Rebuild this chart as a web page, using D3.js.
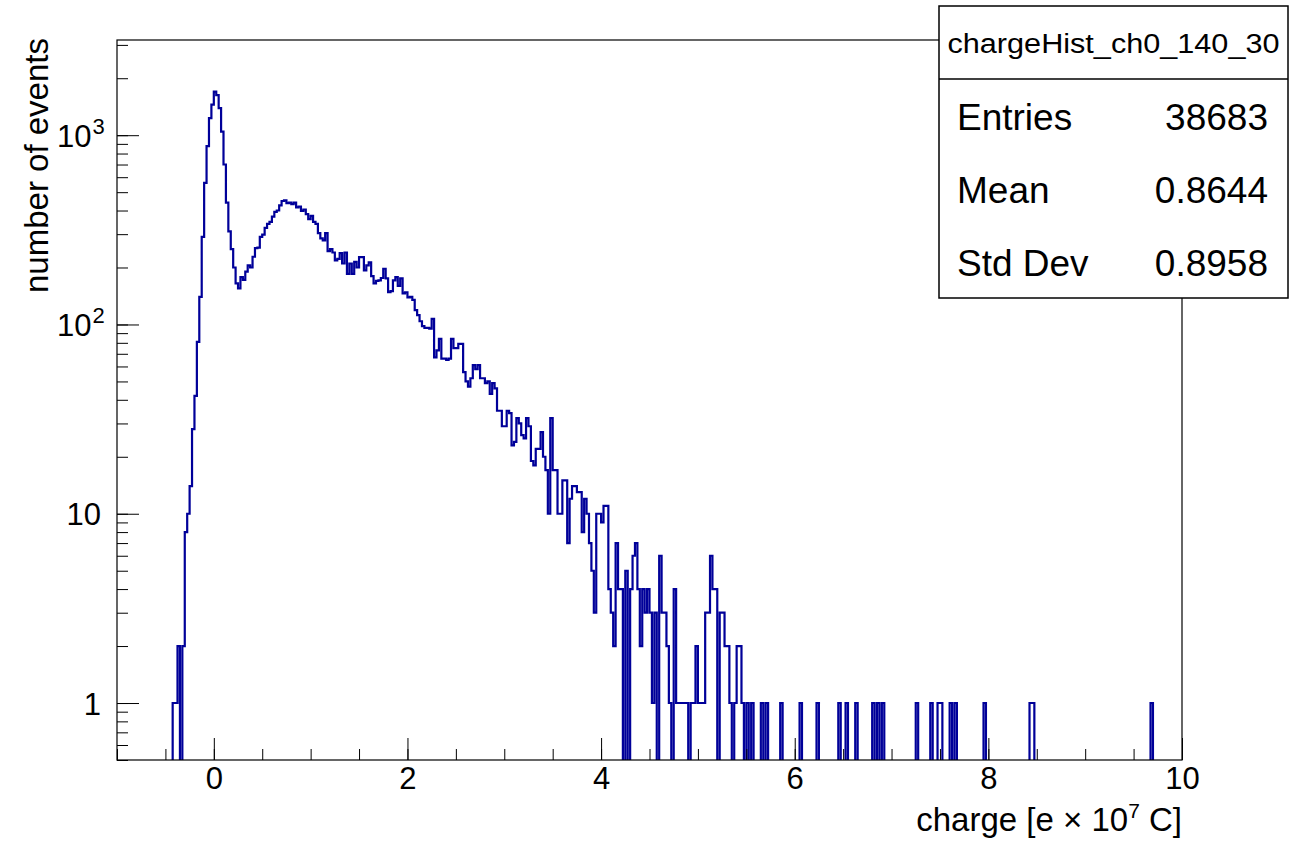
<!DOCTYPE html>
<html>
<head>
<meta charset="utf-8">
<script src="https://cdn.jsdelivr.net/npm/d3@7"></script>
<style>
  body { margin: 0; background: #fff; }
  text { font-family: "Liberation Sans", Arial, Helvetica, sans-serif; fill: #000; }
</style>
</head>
<body>
<script>
// histogram definition (ROOT TH1: 440 bins on [-1, 10])
var histName = "chargeHist_ch0_140_30";
var xMin = -1, xMax = 10, binWidth = 0.025;

// contiguous counts, first bin starts at coreStart
var coreStart = -0.425;
var coreCounts = [
  1, 1, 2, 0, 2, 8, 10, 14, 28, 42,
  81, 140, 290, 560, 875, 1230, 1450, 1700, 1630, 1390,
  1045, 700, 440, 310, 250, 200, 165, 155, 178, 172,
  190, 205, 200, 228, 253, 255, 290, 298, 324, 340,
  348, 371, 393, 400, 426, 449, 452, 438, 440, 432,
  440, 416, 420, 398, 405, 383, 360, 375, 348, 340,
  304, 285, 278, 304, 244, 250, 240, 218, 222, 238,
  210, 240, 185, 210, 185, 214, 200, 227, 227, 193,
  205, 213, 180, 165, 170, 171, 176, 197, 175, 148,
  150, 171, 178, 160, 175, 146, 148, 139, 140, 135,
  119, 112, 104, 98, 96, 96, 95, 107, 67, 73,
  84, 66, 66, 65, 66, 84, 75, 75, 79, 79,
  56, 50, 47, 52, 61, 58, 61, 52, 52, 49,
  50, 43, 49, 46, 35, 35, 29, 29, 35, 34,
  23, 24, 32, 30, 26, 25, 32, 29, 19, 18,
  22, 22, 27, 20, 17, 10, 32, 17, 17, 10,
  10, 15, 15, 7, 12, 14, 14, 13, 13, 8,
  12, 10, 7, 5, 3, 10, 10, 9, 11, 11,
  4, 3, 2, 7, 4, 4, 0, 5, 0, 4,
  6, 7, 4, 2, 4, 3, 4, 3, 1, 3,
  0, 6, 3, 3, 2, 1, 0, 4, 1, 1,
  1, 1, 1, 0, 1, 1, 2, 1, 1, 1,
  3, 3, 6, 4, 4, 0, 3, 3, 2, 2,
  1, 0, 1, 2, 2, 1, 0, 1, 0, 1,
  0, 0, 0, 1, 0, 1
];
// isolated single entries in the far tail (charge values)
var tailCharges = [5.86, 6.06, 6.24, 6.46, 6.54, 6.64, 6.81, 6.86, 6.91, 7.26,
                   7.41, 7.49, 7.51, 7.61, 7.66, 7.96, 8.44, 8.46, 9.69];

var statLabels = ["Entries", "Mean", "Std Dev"];
var statValues = ["38683", "0.8644", "0.8958"];

var xMajor = [0, 2, 4, 6, 8, 10];
var yMajor = [1, 10, 100, 1000];
var yMajorText = [["1", ""], ["10", ""], ["10", "2"], ["10", "3"]];

var W = 1292, H = 841;
var fl = 117, fr = 1182, ft = 40, fb = 760;

var svg = d3.select("body").append("svg")
    .attr("width", W).attr("height", H);

var x = d3.scaleLinear().domain([xMin, xMax]).range([fl, fr]);
var y = d3.scaleLog().domain([0.5, 3184]).range([fb, ft]);

// fill the bins
var nBins = Math.round((xMax - xMin) / binWidth);
var counts = new Array(nBins).fill(0);
var first = Math.round((coreStart - xMin) / binWidth);
coreCounts.forEach(function(c, k) { counts[first + k] = c; });
tailCharges.forEach(function(c) { counts[Math.floor((c - xMin) / binWidth)] += 1; });

var pts = counts.map(function(c, i) { return [xMin + i * binWidth, c]; });
pts.push([xMax, counts[nBins - 1]]);

svg.append("clipPath").attr("id", "frameClip")
  .append("rect").attr("x", fl).attr("y", ft).attr("width", fr - fl).attr("height", fb - ft);

var line = d3.line()
    .x(function(d) { return x(d[0]); })
    .y(function(d) { return d[1] > 0 ? y(d[1]) : fb + 20; })
    .curve(d3.curveStepAfter);

svg.append("path")
    .datum(pts)
    .attr("clip-path", "url(#frameClip)")
    .attr("d", line)
    .attr("fill", "none")
    .attr("stroke", "#000099")
    .attr("stroke-width", 2.2);

// x axis
var xMinorG = svg.append("g").attr("transform", "translate(0," + fb + ")")
    .call(d3.axisBottom(x).tickValues(d3.range(-1, 10.001, 0.5)).tickSize(-11).tickFormat(""));
var xMajorG = svg.append("g").attr("transform", "translate(0," + fb + ")")
    .call(d3.axisBottom(x).tickValues(xMajor).tickSize(-22).tickPadding(7).tickFormat(d3.format("d")));

// y axis
var yMinorG = svg.append("g").attr("transform", "translate(" + fl + ",0)")
    .call(d3.axisLeft(y).tickValues(y.ticks()).tickSize(-11).tickFormat(""));
var yMajorG = svg.append("g").attr("transform", "translate(" + fl + ",0)")
    .call(d3.axisLeft(y).tickValues(yMajor).tickSize(-22).tickPadding(16).tickFormat(""));

[xMinorG, xMajorG, yMinorG, yMajorG].forEach(function(g) {
  g.select(".domain").remove();
  g.selectAll(".tick line").attr("stroke", "#000").attr("stroke-width", 1);
});
xMajorG.selectAll(".tick text").attr("font-size", 31)
    .style("font-family", "'Liberation Sans', Arial, sans-serif");

yMajorG.selectAll(".tick text").each(function(d, i) {
  var t = d3.select(this)
      .attr("font-size", 31)
      .style("font-family", "'Liberation Sans', Arial, sans-serif")
      .attr("dy", "0.36em");
  var lab = yMajorText[i];
  if (lab[1]) {
    t.append("tspan").text(lab[0]);
    t.append("tspan").attr("font-size", 22).attr("dy", "-0.6em").attr("dx", 1).text(lab[1]);
    t.attr("text-anchor", "start").attr("x", -60);
  } else {
    t.text(lab[0]);
  }
});

// frame
svg.append("rect").attr("x", fl).attr("y", ft).attr("width", fr - fl).attr("height", fb - ft)
    .attr("fill", "none").attr("stroke", "#000").attr("stroke-width", 1.2);

// axis titles
svg.append("text")
    .attr("transform", "translate(48," + 38 + ") rotate(-90)")
    .attr("text-anchor", "end")
    .attr("font-size", 33)
    .text("number of events");

var xt = svg.append("text")
    .attr("x", fr).attr("y", 831)
    .attr("text-anchor", "end")
    .attr("font-size", 33);
xt.append("tspan").text("charge [e \u00d7 10");
xt.append("tspan").attr("font-size", 21).attr("dy", -13).text("7");
xt.append("tspan").attr("dy", 13).text(" C]");

// stats box
var bx = 939, by = 6, bw = 349, bh = 292, sep = 79;
var stats = svg.append("g");
stats.append("rect").attr("x", bx).attr("y", by).attr("width", bw).attr("height", bh)
    .attr("fill", "#fff").attr("stroke", "#000").attr("stroke-width", 1.5);
stats.append("line").attr("x1", bx).attr("x2", bx + bw).attr("y1", sep).attr("y2", sep)
    .attr("stroke", "#000").attr("stroke-width", 1.5);
stats.append("text")
    .attr("x", bx + bw / 2).attr("y", 53)
    .attr("text-anchor", "middle")
    .attr("font-size", 27)
    .attr("textLength", 332).attr("lengthAdjust", "spacingAndGlyphs")
    .text(histName);

var rowY = [130, 203, 276];
statLabels.forEach(function(s, i) {
  stats.append("text").attr("x", 957).attr("y", rowY[i]).attr("font-size", 37).text(s);
  stats.append("text").attr("x", 1268).attr("y", rowY[i]).attr("font-size", 37)
      .attr("text-anchor", "end").text(statValues[i]);
});
</script>
</body>
</html>
